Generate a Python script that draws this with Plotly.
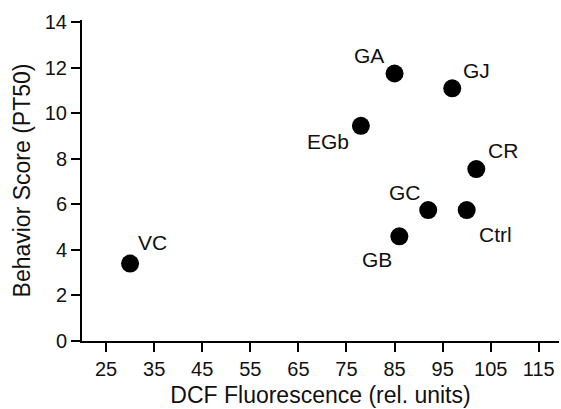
import plotly.graph_objects as go

labels = ["VC", "GA", "GJ", "EGb", "CR", "GC", "Ctrl", "GB"]
dcf = [30, 85, 97, 78, 102, 92, 100, 86]
behavior = [3.4, 11.75, 11.1, 9.45, 7.55, 5.75, 5.75, 4.6]

x_ticks = [25, 35, 45, 55, 65, 75, 85, 95, 105, 115]
y_ticks = [0, 2, 4, 6, 8, 10, 12, 14]

# label placement (pixel offsets relative to marker)
label_pos = {
    "VC": ("left", 6, 21),
    "GA": ("right", -9, 18),
    "GJ": ("left", 9, 18),
    "EGb": ("right", -10, -16),
    "CR": ("left", 10, 19),
    "GC": ("right", -5, 18),
    "Ctrl": ("left", 10, -24),
    "GB": ("right", -5, -23),
}

font = "Liberation Sans, Arial, sans-serif"

fig = go.Figure()
fig.add_trace(go.Scatter(
    x=dcf, y=behavior, mode="markers",
    marker=dict(size=18, color="black", line=dict(width=0)),
    cliponaxis=False, showlegend=False,
))

for lab, xv, yv in zip(labels, dcf, behavior):
    anc, dx, dy = label_pos[lab]
    fig.add_annotation(x=xv, y=yv, text=lab, showarrow=False,
                       xanchor=anc, yanchor="middle", xshift=dx, yshift=dy,
                       font=dict(family=font, size=21, color="#111"))

fig.update_layout(
    width=561, height=409,
    margin=dict(l=82, r=2, t=20, b=68),
    paper_bgcolor="white", plot_bgcolor="white",
    font=dict(family=font, size=20, color="#111"),
)
fig.update_xaxes(
    range=[20, 119.2], tickvals=x_ticks, ticktext=[str(v) for v in x_ticks],
    showgrid=False, zeroline=False, showline=True, linecolor="black", linewidth=2,
    ticks="outside", ticklen=9, tickwidth=2, tickcolor="black", automargin=False,
    title=dict(text="DCF Fluorescence (rel. units)", font=dict(size=23), standoff=8),
)
fig.update_yaxes(
    range=[0, 14.1], tickvals=y_ticks, ticktext=[str(v) for v in y_ticks],
    showgrid=False, zeroline=False, showline=True, linecolor="black", linewidth=2,
    ticks="outside", ticklen=9, tickwidth=2, tickcolor="black", automargin=False,
    title=dict(text="Behavior Score (PT50)", font=dict(size=23), standoff=8),
)

fig.write_html("out.html", config={"displayModeBar": False},
               post_script="document.body.style.margin='0';document.body.style.overflow='hidden';")
